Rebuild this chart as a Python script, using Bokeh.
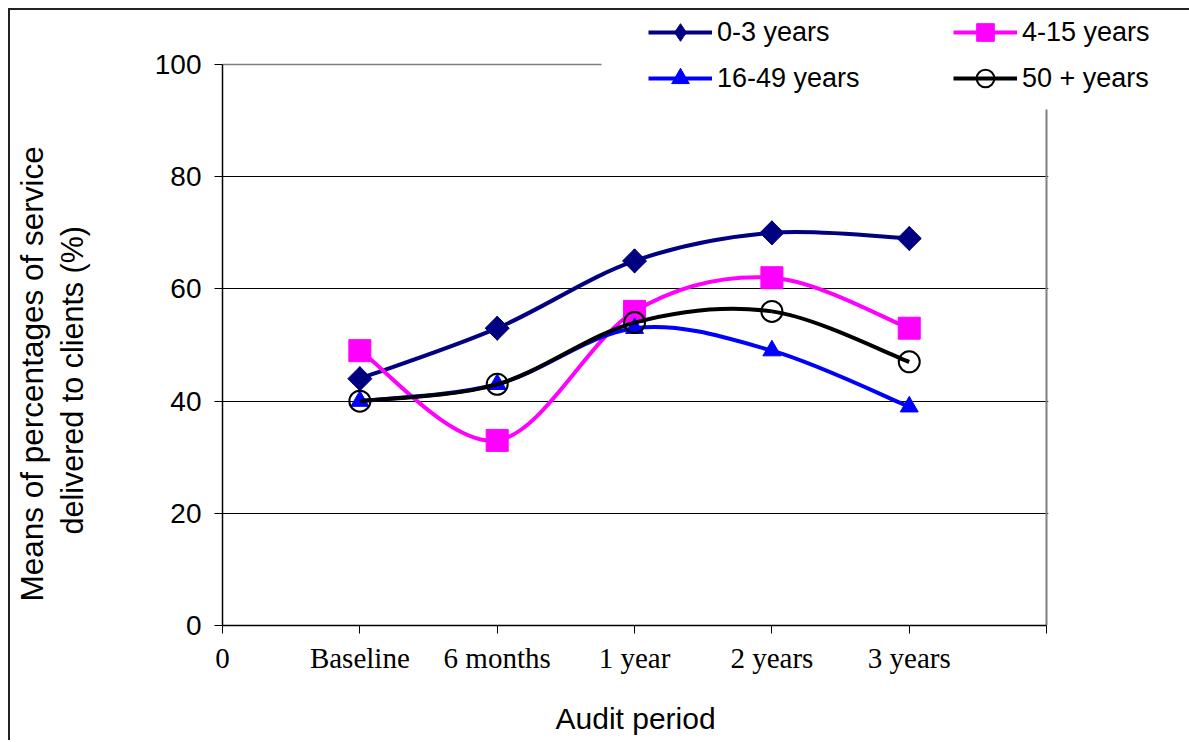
from bokeh.plotting import figure
from bokeh.models import (FixedTicker, Legend, LegendItem, BoxAnnotation, Grid, Title,
                          ColumnDataSource, Range1d)
from bokeh.embed import file_html
from bokeh.resources import INLINE
from math import pi

# ---- data ----
periods = ["Baseline", "6 months", "1 year", "2 years", "3 years"]
period_pos = [1, 2, 3, 4, 5]
series_names = ["0-3 years", "4-15 years", "16-49 years", "50 + years"]
v_0_3 = [44, 53, 65, 70, 69]
v_4_15 = [49, 33, 56, 62, 53]
v_16_49 = [40, 43, 53, 49, 39]
v_50 = [40, 43, 54, 56, 47]
y_ticks = [0, 20, 40, 60, 80, 100]
x_ticks = [0, 1, 2, 3, 4, 5, 6]

p = figure(width=1181, height=732, output_backend="svg", toolbar_location=None,
           x_range=Range1d(0, 7.055), y_range=Range1d(0, 109.64),
           min_border_left=211, min_border_right=0, min_border_top=0,
           min_border_bottom=117)
p.styles = {"margin-left": "8px", "margin-top": "8px",
            "border-top": "2px solid #222", "border-left": "2px solid #222"}

p.outline_line_color = None
p.xgrid.visible = False
p.ygrid.ticker = FixedTicker(ticks=[20, 40, 60, 80])
p.ygrid.grid_line_color = "black"
p.ygrid.grid_line_width = 1
p.add_layout(Grid(dimension=1, ticker=FixedTicker(ticks=[100]),
                  grid_line_color="#808080", grid_line_width=1.5))
p.add_layout(Grid(dimension=0, ticker=FixedTicker(ticks=[6]),
                  grid_line_color="#808080", grid_line_width=2))

# y axis
p.yaxis.ticker = FixedTicker(ticks=y_ticks)
p.yaxis.bounds = (0, 100)
p.yaxis.major_label_text_font = "Liberation Sans"
p.yaxis.major_label_text_font_size = "28px"
p.yaxis.major_label_text_color = "black"
p.yaxis.major_tick_in = 0
p.yaxis.major_tick_out = 8
p.yaxis.major_tick_line_color = "black"
p.yaxis.minor_tick_line_color = None
p.yaxis.axis_line_color = "black"
p.yaxis.axis_line_width = 1.5
p.yaxis.major_label_standoff = 13
p.yaxis.axis_label = " "
p.yaxis.axis_label_text_font_size = "10px"
p.yaxis.axis_label_standoff = 48

# x axis
p.xaxis.ticker = FixedTicker(ticks=x_ticks)
p.xaxis.bounds = (0, 6)
p.xaxis.major_label_overrides = {0: "0", 6: "", **{pos: lab for pos, lab in zip(period_pos, periods)}}
p.xaxis.major_label_text_font = "Liberation Serif"
p.xaxis.major_label_text_font_size = "29px"
p.xaxis.major_label_text_color = "black"
p.xaxis.major_tick_in = 0
p.xaxis.major_tick_out = 8
p.xaxis.major_tick_line_color = "black"
p.xaxis.minor_tick_line_color = None
p.xaxis.axis_line_color = "black"
p.xaxis.axis_line_width = 1.5
p.xaxis.major_label_standoff = 8
p.xaxis.axis_label = " "
p.xaxis.axis_label_text_font_size = "10px"
p.xaxis.axis_label_standoff = 11

# axis titles
p.add_layout(Title(text="delivered to clients (%)", align="left", offset=91,
                   vertical_align="middle", standoff=0, text_font="Liberation Sans",
                   text_font_size="30.5px", text_font_style="normal", text_color="black"), "left")
p.add_layout(Title(text="Means of percentages of service", align="left", offset=24,
                   vertical_align="middle", standoff=5, text_font="Liberation Sans",
                   text_font_size="31.5px", text_font_style="normal", text_color="black"), "left")
p.add_layout(Title(text="Audit period", align="left", offset=333,
                   vertical_align="top", standoff=0, text_font="Liberation Sans",
                   text_font_size="30px", text_font_style="normal", text_color="black"), "below")


def bezier_source(xs, ys):
    n = len(xs)
    d = dict(x0=[], y0=[], x1=[], y1=[], cx0=[], cy0=[], cx1=[], cy1=[])
    for i in range(n - 1):
        a = max(i - 1, 0)
        b = min(i + 2, n - 1)
        d["x0"].append(xs[i]); d["y0"].append(ys[i])
        d["x1"].append(xs[i + 1]); d["y1"].append(ys[i + 1])
        d["cx0"].append(xs[i] + (xs[i + 1] - xs[a]) / 6)
        d["cy0"].append(ys[i] + (ys[i + 1] - ys[a]) / 6)
        d["cx1"].append(xs[i + 1] - (xs[b] - xs[i]) / 6)
        d["cy1"].append(ys[i + 1] - (ys[b] - ys[i]) / 6)
    return ColumnDataSource(d)


styles = [
    (v_0_3, "#000080", [dict(marker="diamond", size=24, fill_color="#000080", line_color="#000080"),
                        dict(marker="square", size=17, angle=pi / 4, fill_color="#000080", line_color="#000080")]),
    (v_4_15, "#FF00FF", [dict(marker="square", size=22, fill_color="#FF00FF", line_color="#FF00FF")]),
    (v_16_49, "#0000FF", [dict(marker="triangle", size=18, fill_color="#0000FF", line_color="#0000FF")]),
    (v_50, "black", [dict(marker="circle", size=21, fill_color=None, line_color="black", line_width=2)]),
]

items = {}
for name, (vals, col, mks) in zip(series_names, styles):
    lr = p.bezier(x0="x0", y0="y0", x1="x1", y1="y1", cx0="cx0", cy0="cy0",
                  cx1="cx1", cy1="cy1", source=bezier_source(period_pos, vals),
                  line_color=col, line_width=4)
    srs = [p.scatter(period_pos, vals, **mk) for mk in mks]
    items[name] = LegendItem(label=name, renderers=[lr, srs[0]])

# white areas: behind the legend and right of the plot area
p.add_layout(BoxAnnotation(left=2.76, right=8, bottom=92, top=120,
                           fill_color="white", fill_alpha=1, line_color=None))
p.add_layout(BoxAnnotation(left=6.012, right=8, bottom=-5, top=120,
                           fill_color="white", fill_alpha=1, line_color=None))

# column-major order: first column 0-3 / 16-49, second column 4-15 / 50+
legend_order = ["0-3 years", "16-49 years", "4-15 years", "50 + years"]
legend = Legend(items=[items[n] for n in legend_order], ncols=2, location=(426, 525),
                label_text_font="Liberation Sans", label_text_font_size="27px",
                label_text_color="black",
                glyph_width=64, glyph_height=44, label_height=44, label_width=234,
                label_standoff=5, spacing=2, padding=0, margin=0,
                border_line_color=None, background_fill_color="white",
                background_fill_alpha=1)
p.add_layout(legend, "center")

open("out.html", "w").write(file_html(p, INLINE))
